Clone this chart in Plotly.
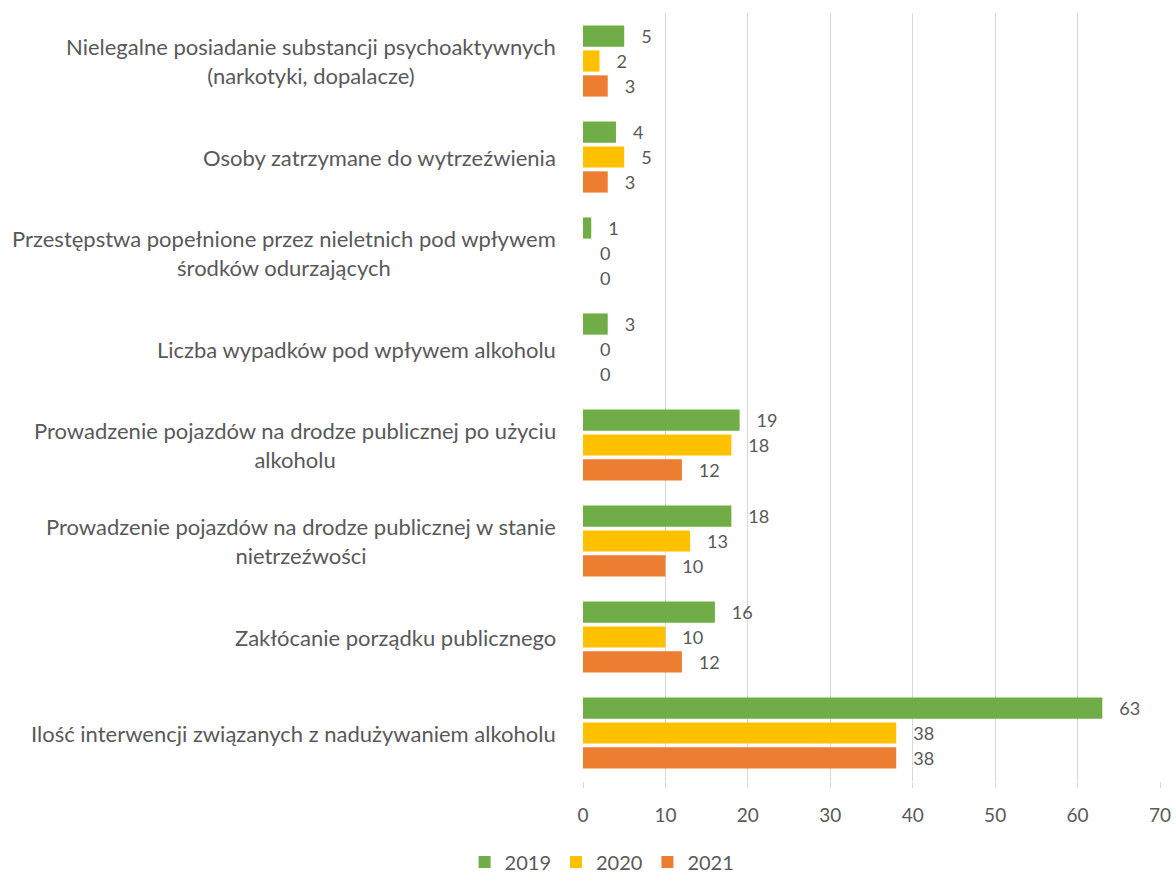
import plotly.graph_objects as go

categories = [
    "Nielegalne posiadanie substancji psychoaktywnych<br>(narkotyki, dopalacze)",
    "Osoby zatrzymane do wytrzeźwienia",
    "Przestępstwa popełnione przez nieletnich pod wpływem<br>środków odurzających",
    "Liczba wypadków pod wpływem alkoholu",
    "Prowadzenie pojazdów na drodze publicznej po użyciu<br>alkoholu",
    "Prowadzenie pojazdów na drodze publicznej w stanie<br>nietrzeźwości",
    "Zakłócanie porządku publicznego",
    "Ilość interwencji związanych z nadużywaniem alkoholu",
]
v2019 = [5, 4, 1, 3, 19, 18, 16, 63]
v2020 = [2, 5, 0, 0, 18, 13, 10, 38]
v2021 = [3, 3, 0, 0, 12, 10, 12, 38]
series_names = ["2019", "2020", "2021"]
colors = ["#70AD47", "#FFC000", "#ED7D31"]
x_ticks = [0, 10, 20, 30, 40, 50, 60, 70]

FONT = "Lato"
TXT = "#595959"

fig = go.Figure()
idx = list(range(len(categories)))
for name, vals, col in zip(series_names, [v2019, v2020, v2021], colors):
    fig.add_trace(go.Bar(
        name=name, y=idx, x=vals, orientation="h",
        marker=dict(color=col, line=dict(width=0)),
        text=["   " + str(v) for v in vals], textposition="outside",
        textfont=dict(family=FONT, size=20.5, color=TXT),
        cliponaxis=False,
    ))

for i, c in enumerate(categories):
    fig.add_annotation(
        x=0, xref="paper", xanchor="right", xshift=-25,
        y=i, yref="y", yanchor="middle",
        text=c, showarrow=False, align="center",
        font=dict(family=FONT, size=22, color=TXT),
    )

fig.update_layout(
    width=1176, height=877,
    margin=dict(l=583, r=16, t=13, b=96, autoexpand=False),
    barmode="group", bargap=0.22, bargroupgap=0.15,
    plot_bgcolor="white", paper_bgcolor="white",
    font=dict(family=FONT, size=19, color=TXT),
    legend=dict(orientation="h", x=0.512, xanchor="center", xref="container",
                y=0.017, yanchor="middle", yref="container",
                font=dict(family=FONT, size=20, color=TXT),
                itemwidth=30, traceorder="normal"),
    xaxis=dict(range=[0, 70], tickvals=x_ticks, showgrid=True, automargin=False,
               gridcolor="#D9D9D9", gridwidth=1, zeroline=False,
               showline=False, ticks="outside", ticklen=6, tickcolor="#D9D9D9",
               ticklabelstandoff=11,
               tickfont=dict(family=FONT, size=19, color=TXT)),
    yaxis=dict(range=[7.5, -0.5], showticklabels=False, showgrid=False,
               automargin=False, zeroline=False, showline=False),
    showlegend=True,
)
fig.write_html("out.html", config={"displayModeBar": False})

with open("out.html", "r", encoding="utf-8") as f:
    html = f.read()
html = html.replace("<head>", "<head><style>html,body{margin:0;padding:0;overflow:hidden;}</style>", 1)
with open("out.html", "w", encoding="utf-8") as f:
    f.write(html)
